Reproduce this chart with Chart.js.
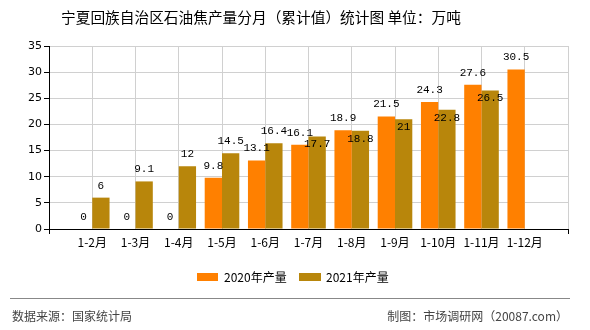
<!DOCTYPE html>
<html>
<head>
<meta charset="utf-8">
<script src="https://cdn.jsdelivr.net/npm/chart.js@4"></script>
<style>
  html, body { margin: 0; padding: 0; background: #fff; }
  #wrap { position: relative; width: 590px; height: 330px; }
  #chart { position: absolute; left: 0; top: 0; }
</style>
</head>
<body>
<div id="wrap"><canvas id="chart" width="590" height="330"></canvas></div>
<script>
var months = ['1-2月', '1-3月', '1-4月', '1-5月', '1-6月', '1-7月', '1-8月', '1-9月', '1-10月', '1-11月', '1-12月'];
var output2020 = [0, 0, 0, 9.8, 13.1, 16.1, 18.9, 21.5, 24.3, 27.6, 30.5];
var output2021 = [6, 9.1, 12, 14.5, 16.4, 17.7, 18.8, 21, 22.8, 26.5, null];
var yTicks = [0, 5, 10, 15, 20, 25, 30, 35];

var orange = '#ff8000';
var gold = '#b8860b';
var fontCJK = '"Noto Sans CJK SC", "Noto Sans", sans-serif';

// empty slot at each end so the bars sit on the grid lines
function pad(arr) { return [null].concat(arr, [null]); }

// title, legend and footer
var decor = {
    id: 'decor',
    afterDraw: function (chart) {
        var c = chart.ctx;
        c.save();
        c.fillStyle = '#000';
        c.font = '14.7px ' + fontCJK;
        c.textBaseline = 'middle';
        c.textAlign = 'left';
        c.fillText('宁夏回族自治区石油焦产量分月（累计值）统计图 单位：万吨', 61, 17);

        c.font = '12px ' + fontCJK;
        c.fillStyle = orange;
        c.fillRect(197, 273, 21, 8);
        c.fillStyle = '#000';
        c.fillText(chart.data.datasets[0].label, 224, 277);
        c.fillStyle = gold;
        c.fillRect(299, 273, 22, 8);
        c.fillStyle = '#000';
        c.fillText(chart.data.datasets[1].label, 326, 277);

        c.strokeStyle = '#888';
        c.lineWidth = 1;
        c.beginPath();
        c.moveTo(10, 298.5);
        c.lineTo(570, 298.5);
        c.stroke();

        c.fillStyle = '#444';
        c.font = '12px ' + fontCJK;
        c.fillText('数据来源：国家统计局', 12, 316);
        c.textAlign = 'right';
        c.fillText('制图：市场调研网（20087.com）', 568, 316);
        c.restore();
    }
};

// value labels; a 2021 label that would collide with the 2020 one goes inside its bar
var valueLabels = {
    id: 'valueLabels',
    afterDatasetsDraw: function (chart) {
        var c = chart.ctx;
        var m0 = chart.getDatasetMeta(0);
        var m1 = chart.getDatasetMeta(1);
        c.save();
        c.font = '11px "Liberation Mono", "DejaVu Sans Mono", monospace';
        c.fillStyle = '#000';
        c.textAlign = 'center';
        c.textBaseline = 'middle';
        var d0 = chart.data.datasets[0].data;
        var d1 = chart.data.datasets[1].data;
        for (var i = 0; i < d0.length; i++) {
            var y0 = null;
            if (d0[i] !== null) {
                var b0 = m0.data[i];
                y0 = b0.y - 12;
                c.fillText(String(d0[i]), b0.x, y0);
            }
            if (d1[i] !== null) {
                var b1 = m1.data[i];
                var y1 = b1.y - 12;
                if (y0 !== null && Math.abs(y1 - y0) < 14) y1 = b1.y + 8;
                c.fillText(String(d1[i]), b1.x, y1);
            }
        }
        c.restore();
    }
};

var labels = [''].concat(months, ['']);

new Chart(document.getElementById('chart'), {
    type: 'bar',
    data: {
        labels: labels,
        datasets: [{
            label: '2020年产量',
            data: pad(output2020),
            backgroundColor: orange,
            barPercentage: 1,
            categoryPercentage: 0.8
        }, {
            label: '2021年产量',
            data: pad(output2021),
            backgroundColor: gold,
            barPercentage: 1,
            categoryPercentage: 0.8
        }]
    },
    options: {
        responsive: false,
        animation: false,
        layout: { padding: { left: 0, right: 22, top: 46, bottom: 81 } },
        plugins: {
            legend: { display: false },
            title: { display: false },
            tooltip: { enabled: false }
        },
        scales: {
            x: {
                offset: false,
                grid: {
                    offset: false,
                    color: '#d0d0d0',
                    tickLength: 5,
                    tickColor: function (ctx) {
                        return (ctx.index === 0 || ctx.index === labels.length - 1) ? '#000' : 'rgba(0,0,0,0)';
                    }
                },
                border: { color: '#000' },
                ticks: {
                    autoSkip: false,
                    maxRotation: 0,
                    padding: 1,
                    color: '#000',
                    font: { family: fontCJK, size: 12 }
                },
                afterFit: function (s) { s.height = 20; }
            },
            y: {
                min: 0,
                max: 35,
                afterBuildTicks: function (s) {
                    s.ticks = yTicks.map(function (v) { return { value: v }; });
                },
                grid: { color: '#d0d0d0', tickColor: '#000', tickLength: 5 },
                border: { color: '#000' },
                ticks: {
                    padding: 2,
                    color: '#000',
                    font: { family: '"DejaVu Sans", sans-serif', size: 11 }
                },
                afterFit: function (s) { s.width = 49; }
            }
        }
    },
    plugins: [decor, valueLabels]
});
</script>
</body>
</html>
